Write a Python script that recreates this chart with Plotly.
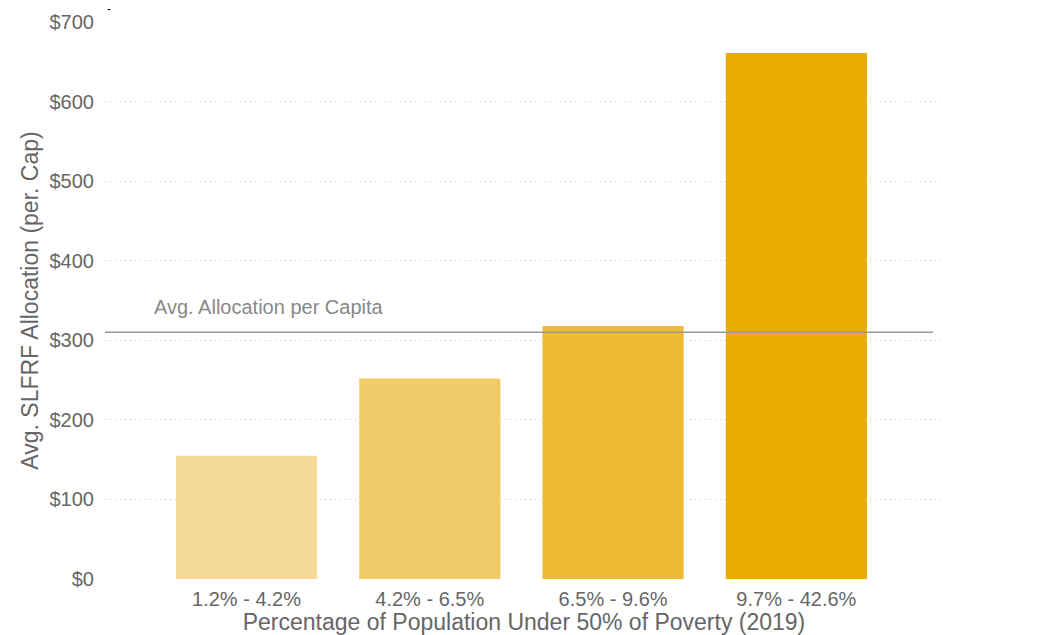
import plotly.graph_objects as go

# Poverty bands and the average SLFRF allocation per capita in each
categories = ["1.2% - 4.2%", "4.2% - 6.5%", "6.5% - 9.6%", "9.7% - 42.6%"]
allocation = [155, 252, 318, 661]
bar_colors = ["#F6DB98", "#F0CB67", "#EEBA33", "#EAAB00"]
avg_allocation = 310
y_ticks = [0, 100, 200, 300, 400, 500, 600, 700]
y_tick_labels = ["$0", "$100", "$200", "$300", "$400", "$500", "$600", "$700"]

FONT = "Liberation Sans, Arial, sans-serif"

fig = go.Figure(
    go.Bar(
        x=list(range(len(categories))),
        y=allocation,
        marker=dict(color=bar_colors, line=dict(width=0)),
        hovertemplate="%{customdata}<br>$%{y}<extra></extra>",
        customdata=categories,
    )
)

# Reference line for the overall average
fig.add_shape(
    type="line", xref="paper", yref="y",
    x0=0, x1=0.988, y0=avg_allocation, y1=avg_allocation,
    line=dict(color="#999999", width=1.5),
)
fig.add_annotation(
    xref="paper", yref="y", x=0.056, y=avg_allocation,
    xanchor="left", yanchor="middle", yshift=25,
    text="Avg. Allocation per Capita", showarrow=False,
    font=dict(family=FONT, size=20, color="#888888"),
)
fig.add_annotation(
    xref="paper", yref="paper", x=0, y=1, xanchor="left", yanchor="bottom",
    yshift=4, text="-", showarrow=False,
    font=dict(family=FONT, size=12, color="#000000"),
)

fig.update_layout(
    width=1059, height=635,
    margin=dict(l=105, r=116, t=22, b=56),
    plot_bgcolor="white", paper_bgcolor="white",
    bargap=0.23, showlegend=False,
    font=dict(family=FONT, color="#666666"),
    xaxis=dict(
        range=[-0.772, 3.8], automargin=False,
        tickvals=list(range(len(categories))),
        ticktext=categories,
        tickfont=dict(size=20, color="#666666"),
        showgrid=False, zeroline=False, showline=False, ticks="",
        ticklabelstandoff=6,
        title=dict(text="Percentage of Population Under 50% of Poverty (2019)",
                   font=dict(size=23, color="#666666"), standoff=0),
    ),
    yaxis=dict(
        range=[0, 700], automargin=False,
        tickvals=y_ticks, ticktext=y_tick_labels,
        tickfont=dict(size=20, color="#666666"),
        showgrid=True, gridcolor="#cccccc", griddash="1px,4px", gridwidth=1,
        zeroline=False, showline=False, ticks="", ticklabelstandoff=10,
        title=dict(text="Avg. SLFRF Allocation (per. Cap)",
                   font=dict(size=23, color="#666666"), standoff=4),
    ),
)

fig.write_html("out.html")
